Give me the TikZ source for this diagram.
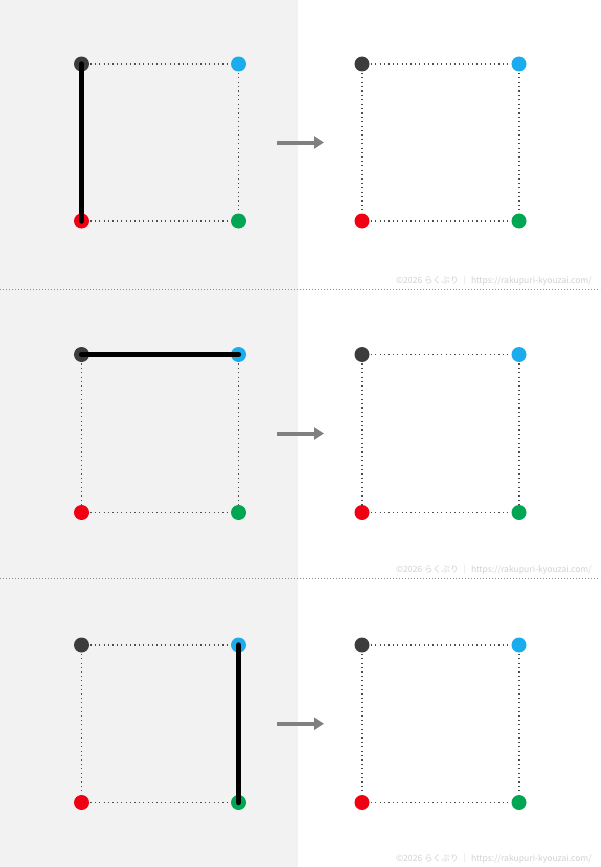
\documentclass[tikz,border=0pt]{standalone}
\usepackage{fontspec}
\newfontfamily\cjk{Noto Sans CJK JP}
\usetikzlibrary{arrows.meta}
\definecolor{bggray}{HTML}{F2F2F2}
\definecolor{cdark}{HTML}{3C3C3C}
\definecolor{cblue}{HTML}{1AACEC}
\definecolor{cred}{HTML}{F00012}
\definecolor{cgreen}{HTML}{00A651}
\definecolor{arrowgray}{HTML}{808080}
\definecolor{wmgray}{HTML}{D2D2D2}
\tikzset{
  pt/.style={circle,inner sep=0pt,minimum size=15pt},
  edge/.style={draw=black!70,line width=1.2pt,dash pattern=on 1.2pt off 3.2pt},
  strokeline/.style={draw=black,line width=5.5pt,line cap=round},
  sep/.style={draw=black!45,line width=0.9pt,dash pattern=on 0.9pt off 2.1pt},
  flow/.style={draw=arrowgray,line width=4pt,-{Triangle[length=10pt,width=12pt]}},
  wm/.style={text=wmgray,font=\cjk\fontsize{8.6}{9}\selectfont,anchor=east,inner sep=0pt}
}
\begin{document}
\begin{tikzpicture}[x=1pt,y=-1pt]
\useasboundingbox (0,0) rectangle (600,867);
\fill[white] (0,0) rectangle (600,867);
\fill[bggray] (0,0) rectangle (298,867);
% separators
\coordinate (s1a) at (0,289); \coordinate (s1b) at (600,289);
\coordinate (s2a) at (0,578); \coordinate (s2b) at (600,578);
\draw[sep] (s1a) -- (s1b);
\draw[sep] (s2a) -- (s2b);
% panels
\foreach \p/\yt/\yb in {1/64/221,2/354.5/512.5,3/645/802.5}{
  \foreach \s/\xl/\xr in {L/81.5/238.5,R/362/519}{
    \coordinate (\s\p tl) at (\xl,\yt);
    \coordinate (\s\p tr) at (\xr,\yt);
    \coordinate (\s\p bl) at (\xl,\yb);
    \coordinate (\s\p br) at (\xr,\yb);
    \draw[edge] (\s\p tl) -- (\s\p tr);
    \draw[edge] (\s\p tr) -- (\s\p br);
    \draw[edge] (\s\p bl) -- (\s\p br);
    \draw[edge] (\s\p tl) -- (\s\p bl);
  }
}
\foreach \p/\yt/\yb in {1/64/221,2/354.5/512.5,3/645/802.5}{
  \foreach \s/\xl/\xr in {L/81.5/238.5,R/362/519}{
    \node[pt,fill=cdark] (\s\p a) at (\xl,\yt) {};
    \node[pt,fill=cblue] (\s\p b) at (\xr,\yt) {};
    \node[pt,fill=cred] (\s\p c) at (\xl,\yb) {};
    \node[pt,fill=cgreen] (\s\p d) at (\xr,\yb) {};
  }
  \coordinate (A\p s) at (277,\yt/2+\yb/2);
  \coordinate (A\p e) at (324,\yt/2+\yb/2);
  \draw[flow] (A\p s) -- (A\p e);
}
\draw[strokeline] (L1a.center) -- (L1c.center);
\draw[strokeline] (L2a.center) -- (L2b.center);
\draw[strokeline] (L3b.center) -- (L3d.center);
% watermarks
\node[wm] (w1) at (592,281) {©2026 らくぷり ｜ https://rakupuri-kyouzai.com/};
\node[wm] (w2) at (592,570) {©2026 らくぷり ｜ https://rakupuri-kyouzai.com/};
\node[wm] (w3) at (592,859) {©2026 らくぷり ｜ https://rakupuri-kyouzai.com/};
\end{tikzpicture}
\end{document}
